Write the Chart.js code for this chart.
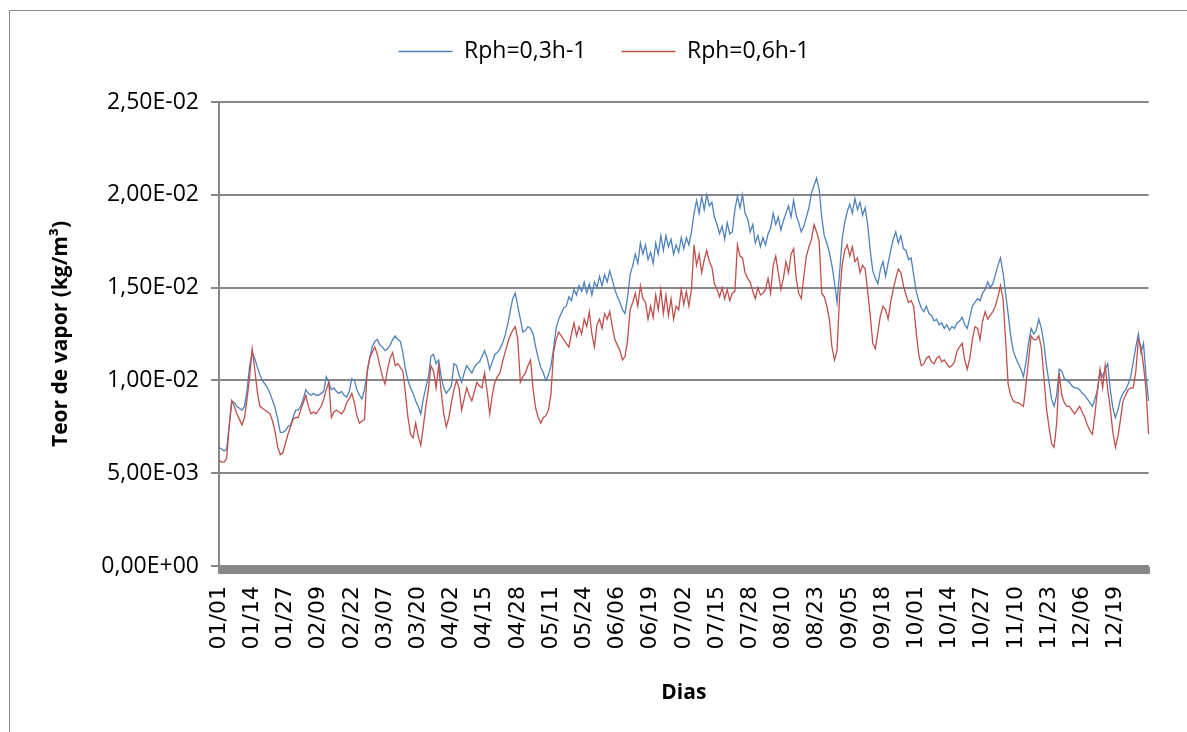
<!DOCTYPE html>
<html>
<head>
<meta charset="utf-8">
<script src="https://cdn.jsdelivr.net/npm/chart.js@4.4.1/dist/chart.umd.min.js"></script>
<style>
  html, body { margin: 0; padding: 0; background: #fff; }
  #wrap { position: relative; width: 1187px; height: 732px; overflow: hidden; }
  #frame { position: absolute; left: 9px; top: 10px; width: 1300px; height: 800px;
           border-left: 1px solid #8a8a8a; border-top: 1px solid #8a8a8a; pointer-events: none; }
</style>
</head>
<body>
<div id="wrap">
  <canvas id="chart" width="1187" height="732"></canvas>
  <div id="frame"></div>
</div>
<script>
// x tick labels, one every 13 days
const tickLabels = ['01/01','01/14','01/27','02/09','02/22','03/07','03/20','04/02','04/15','04/28',
  '05/11','05/24','06/06','06/19','07/02','07/15','07/28','08/10','08/23','09/05',
  '09/18','10/01','10/14','10/27','11/10','11/23','12/06','12/19'];

// daily readings, in units of 1E-02 kg/m3
const rph03 = [
  0.64,0.63,0.62,0.63,0.76,0.89,0.88,0.86,0.85,0.84,0.86,0.95,1.08,
  1.15,1.12,1.07,1.03,1.00,0.98,0.96,0.93,0.89,0.85,0.79,0.72,0.72,
  0.73,0.75,0.76,0.80,0.84,0.84,0.86,0.90,0.95,0.93,0.92,0.93,0.92,
  0.92,0.93,0.94,1.02,0.99,0.95,0.96,0.94,0.93,0.94,0.92,0.91,0.94,
  1.01,1.00,0.95,0.92,0.90,0.95,1.04,1.12,1.18,1.21,1.22,1.19,1.18,
  1.16,1.17,1.19,1.22,1.24,1.22,1.21,1.15,1.06,1.00,0.96,0.93,0.89,
  0.86,0.82,0.90,0.96,1.02,1.13,1.14,1.09,1.11,1.02,0.96,0.93,0.95,
  0.97,1.09,1.08,1.03,0.99,1.04,1.08,1.06,1.04,1.07,1.09,1.10,1.13,
  1.16,1.12,1.06,1.10,1.14,1.15,1.17,1.20,1.24,1.30,1.37,1.44,1.47,
  1.40,1.33,1.26,1.27,1.29,1.28,1.25,1.18,1.12,1.07,1.04,1.00,1.03,
  1.08,1.17,1.28,1.33,1.36,1.39,1.40,1.45,1.43,1.49,1.46,1.51,1.48,
  1.53,1.47,1.52,1.46,1.53,1.50,1.56,1.51,1.57,1.53,1.59,1.54,1.49,
  1.45,1.42,1.38,1.36,1.45,1.57,1.62,1.68,1.63,1.74,1.68,1.73,1.65,
  1.69,1.63,1.74,1.68,1.78,1.70,1.78,1.72,1.76,1.68,1.73,1.69,1.77,
  1.71,1.77,1.73,1.80,1.90,1.97,1.90,1.99,1.92,2.00,1.94,1.96,1.88,
  1.84,1.79,1.83,1.76,1.85,1.79,1.80,1.92,1.99,1.93,2.00,1.90,1.87,
  1.80,1.84,1.74,1.78,1.72,1.77,1.73,1.79,1.82,1.90,1.84,1.88,1.81,
  1.86,1.90,1.94,1.88,1.97,1.89,1.85,1.80,1.83,1.88,1.93,2.01,2.05,
  2.09,2.03,1.88,1.78,1.74,1.69,1.62,1.53,1.42,1.58,1.76,1.85,1.91,
  1.95,1.90,1.98,1.92,1.96,1.89,1.93,1.84,1.70,1.59,1.55,1.52,1.60,
  1.64,1.56,1.63,1.70,1.76,1.80,1.74,1.78,1.71,1.70,1.65,1.66,1.57,
  1.48,1.43,1.39,1.37,1.40,1.36,1.35,1.32,1.33,1.30,1.31,1.28,1.30,
  1.27,1.29,1.28,1.31,1.32,1.34,1.30,1.28,1.34,1.40,1.42,1.44,1.43,
  1.47,1.49,1.53,1.50,1.52,1.57,1.62,1.66,1.58,1.47,1.36,1.24,1.16,
  1.12,1.09,1.06,1.02,1.10,1.20,1.28,1.25,1.27,1.33,1.28,1.20,1.08,
  0.99,0.90,0.86,0.92,1.06,1.05,1.01,1.00,0.99,0.97,0.96,0.96,0.95,
  0.93,0.92,0.90,0.88,0.86,0.90,0.95,1.05,1.02,1.06,1.09,0.95,0.85,
  0.80,0.84,0.90,0.93,0.95,0.98,1.02,1.10,1.18,1.25,1.15,1.20,1.02,0.89
];

const rph06 = [
  0.57,0.56,0.56,0.58,0.75,0.89,0.86,0.82,0.79,0.76,0.80,0.90,1.02,
  1.17,1.06,0.94,0.86,0.85,0.84,0.83,0.82,0.78,0.72,0.64,0.60,0.61,
  0.66,0.71,0.75,0.79,0.80,0.80,0.84,0.88,0.92,0.86,0.82,0.83,0.82,
  0.84,0.86,0.90,0.95,0.99,0.80,0.83,0.84,0.83,0.82,0.84,0.88,0.90,
  0.93,0.88,0.81,0.77,0.78,0.79,1.05,1.12,1.15,1.18,1.14,1.08,1.02,
  0.98,1.06,1.12,1.15,1.08,1.09,1.07,1.05,0.93,0.80,0.71,0.69,0.77,
  0.70,0.65,0.75,0.86,0.95,1.08,1.05,0.96,1.08,0.94,0.82,0.75,0.80,
  0.88,0.95,1.00,0.96,0.84,0.90,0.96,0.92,0.89,0.94,0.99,0.97,0.96,
  1.04,0.94,0.82,0.92,0.99,1.02,1.04,1.10,1.15,1.20,1.24,1.27,1.29,
  1.22,0.99,1.02,1.04,1.08,1.11,0.95,0.85,0.80,0.77,0.80,0.81,0.84,
  0.93,1.15,1.22,1.26,1.24,1.22,1.20,1.18,1.25,1.31,1.24,1.29,1.25,
  1.33,1.29,1.37,1.25,1.18,1.30,1.33,1.28,1.36,1.33,1.37,1.29,1.22,
  1.19,1.16,1.11,1.13,1.22,1.38,1.42,1.47,1.40,1.51,1.44,1.42,1.33,
  1.40,1.34,1.46,1.38,1.49,1.36,1.46,1.35,1.44,1.33,1.40,1.38,1.49,
  1.41,1.48,1.40,1.49,1.73,1.62,1.68,1.58,1.65,1.70,1.64,1.61,1.52,
  1.49,1.45,1.50,1.44,1.49,1.43,1.47,1.48,1.73,1.67,1.66,1.58,1.55,
  1.53,1.48,1.44,1.50,1.46,1.47,1.49,1.55,1.47,1.62,1.67,1.58,1.49,
  1.55,1.64,1.58,1.68,1.71,1.55,1.47,1.44,1.56,1.67,1.72,1.76,1.84,
  1.80,1.75,1.47,1.45,1.40,1.33,1.18,1.11,1.16,1.45,1.62,1.70,1.73,
  1.67,1.72,1.64,1.66,1.58,1.62,1.60,1.48,1.35,1.20,1.17,1.26,1.35,
  1.40,1.38,1.33,1.42,1.49,1.55,1.60,1.58,1.51,1.46,1.42,1.43,1.40,
  1.26,1.14,1.08,1.09,1.12,1.13,1.10,1.09,1.12,1.13,1.10,1.11,1.09,
  1.07,1.08,1.10,1.16,1.18,1.20,1.11,1.06,1.12,1.22,1.29,1.28,1.22,
  1.32,1.37,1.33,1.35,1.37,1.40,1.45,1.51,1.44,1.22,0.98,0.92,0.89,
  0.88,0.88,0.87,0.86,0.98,1.11,1.24,1.22,1.22,1.24,1.18,1.02,0.85,
  0.75,0.66,0.64,0.77,1.04,0.92,0.88,0.86,0.86,0.84,0.82,0.84,0.86,
  0.83,0.80,0.76,0.73,0.71,0.82,0.95,1.06,0.96,1.08,0.95,0.85,0.72,
  0.64,0.70,0.79,0.89,0.92,0.95,0.96,0.96,1.05,1.22,1.18,1.08,0.95,0.71
];

const days = rph03.map((_, i) => i);
const axisGray = '#878787';

// 2,50E-02 style labels
function sciLabel(v) {
    if (Math.abs(v) < 1e-12) return '0,00E+00';
    let e = Math.floor(Math.log10(Math.abs(v)));
    let m = v / Math.pow(10, e);
    if (Math.round(m * 100) / 100 >= 10) { m /= 10; e += 1; }
    const sign = e < 0 ? '-' : '+';
    return m.toFixed(2).replace('.', ',') + 'E' + sign + String(Math.abs(e)).padStart(2, '0');
}

// a bit more room under the legend
const legendGap = {
    id: 'legendGap',
    beforeInit(chart) {
        const fit = chart.legend.fit;
        chart.legend.fit = function () {
            fit.bind(chart.legend)();
            this.height += 29;
        };
    }
};

new Chart(document.getElementById('chart'), {
    type: 'line',
    data: {
        labels: days,
        datasets: [
            {
                label: 'Rph=0,3h-1',
                data: rph03.map(v => v / 100),
                borderColor: '#4F81BD',
                backgroundColor: '#4F81BD',
                borderWidth: 1.3,
                pointRadius: 0,
                tension: 0,
                order: 1
            },
            {
                label: 'Rph=0,6h-1',
                data: rph06.map(v => v / 100),
                borderColor: '#C0504D',
                backgroundColor: '#C0504D',
                borderWidth: 1.3,
                pointRadius: 0,
                tension: 0,
                order: 0
            }
        ]
    },
    options: {
        responsive: false,
        animation: false,
        layout: { padding: { left: 48, right: 27, top: 5, bottom: 26 } },
        plugins: {
            legend: {
                position: 'top',
                labels: {
                    color: '#000',
                    font: { family: 'Open Sans', size: 23 },
                    usePointStyle: true,
                    pointStyle: 'line',
                    pointStyleWidth: 54,
                    padding: 35,
                    sort: (a, b) => a.datasetIndex - b.datasetIndex
                }
            },
            tooltip: { enabled: false }
        },
        scales: {
            x: {
                type: 'category',
                afterFit: (scale) => { scale.height = 140; },
                border: { display: true, color: axisGray, width: 2 },
                grid: {
                    drawOnChartArea: false,
                    drawTicks: true,
                    tickLength: 8,
                    tickWidth: 3,
                    tickColor: axisGray
                },
                ticks: {
                    autoSkip: false,
                    minRotation: 90,
                    maxRotation: 90,
                    padding: 12,
                    color: '#000',
                    font: { family: 'DejaVu Sans', size: 22 },
                    callback: (val, i) => (i % 13 === 0 ? (tickLabels[i / 13] || '') : '')
                },
                title: {
                    display: true,
                    text: 'Dias',
                    color: '#000',
                    font: { family: 'Open Sans', size: 21, weight: 'bold' },
                    padding: 0
                }
            },
            y: {
                min: 0,
                max: 0.025,
                afterFit: (scale) => { scale.width = 171; },
                border: { display: true, color: axisGray, width: 2 },
                grid: {
                    color: axisGray,
                    lineWidth: 2,
                    tickLength: 8,
                    tickColor: axisGray
                },
                ticks: {
                    stepSize: 0.005,
                    padding: 12,
                    color: '#000',
                    font: { family: 'Open Sans', size: 23 },
                    callback: (v) => sciLabel(v)
                },
                title: {
                    display: true,
                    text: 'Teor de vapor (kg/m³)',
                    color: '#000',
                    font: { family: 'Open Sans', size: 21, weight: 'bold' },
                    padding: 0
                }
            }
        }
    },
    plugins: [legendGap]
});
</script>
</body>
</html>
